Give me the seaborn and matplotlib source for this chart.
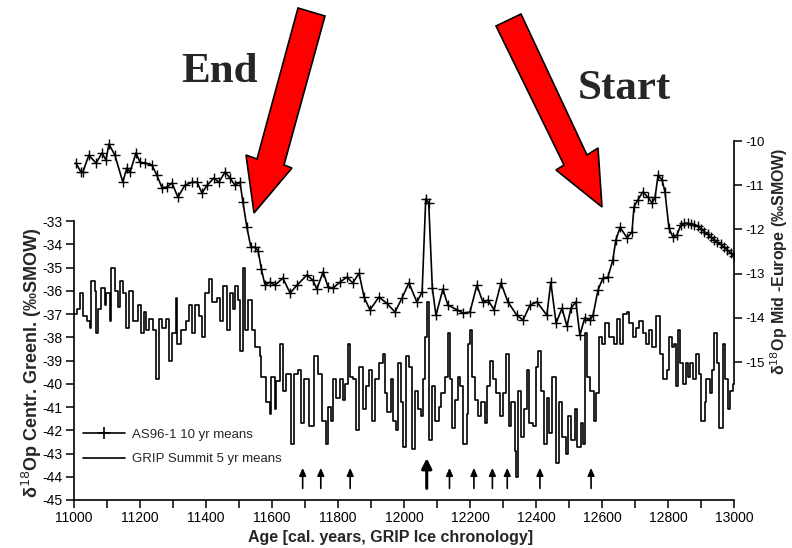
import matplotlib
matplotlib.use("Agg")
import matplotlib.pyplot as plt
import seaborn as sns
from matplotlib.patches import Polygon
from matplotlib.lines import Line2D

# AS96-1 (Mid-Europe), 10 yr means  -> right axis
as96_years = [11006, 11021, 11027, 11045, 11067, 11085, 11097, 11106, 11124, 11148,
              11160, 11170, 11188, 11200, 11215, 11236, 11251, 11267, 11282, 11297,
              11315, 11336, 11358, 11373, 11388, 11403, 11424, 11439, 11458, 11473,
              11488, 11503, 11512, 11524, 11536, 11548, 11558, 11568, 11579, 11594,
              11609, 11633, 11655, 11676, 11706, 11724, 11736, 11755, 11770, 11785,
              11806, 11827, 11845, 11864, 11879, 11897, 11924, 11948, 11973, 11994,
              12015, 12039, 12055, 12066, 12075, 12086, 12097, 12118, 12133, 12161,
              12179, 12200, 12221, 12239, 12255, 12273, 12294, 12315, 12342, 12361,
              12382, 12403, 12433, 12445, 12461, 12479, 12494, 12506, 12521, 12533,
              12548, 12564, 12573, 12588, 12603, 12618, 12633, 12642, 12655, 12676,
              12691, 12697, 12709, 12724, 12739, 12752, 12761, 12770, 12782, 12791,
              12803, 12815, 12827, 12839, 12850, 12860, 12870, 12880, 12890, 12900,
              12910, 12920, 12930, 12940, 12950, 12960, 12970, 12980, 12990, 13000]
as96_d18o = [-10.50, -10.70, -10.70, -10.32, -10.50, -10.27, -10.43, -10.07, -10.32, -10.93,
             -10.61, -10.70, -10.27, -10.48, -10.50, -10.54, -10.77, -11.06, -11.04, -10.95,
             -11.27, -11.00, -10.93, -10.93, -11.18, -11.00, -10.84, -10.93, -10.70, -10.84,
             -11.00, -10.93, -11.38, -11.95, -12.40, -12.40, -12.48, -12.90, -13.26, -13.19,
             -13.26, -13.10, -13.44, -13.26, -13.03, -13.15, -13.35, -12.96, -13.30, -13.33,
             -13.19, -13.08, -13.21, -12.99, -13.53, -13.82, -13.53, -13.67, -13.87, -13.55,
             -13.21, -13.64, -13.42, -11.30, -11.40, -13.33, -13.94, -13.35, -13.71, -13.82,
             -13.89, -13.87, -13.26, -13.64, -13.60, -13.82, -13.21, -13.64, -13.94, -14.05,
             -13.71, -13.64, -13.94, -13.19, -14.12, -13.78, -14.19, -13.78, -13.64, -14.39,
             -14.00, -14.05, -13.94, -13.37, -13.10, -13.08, -12.69, -12.24, -11.95, -12.19,
             -12.06, -11.49, -11.33, -11.15, -11.27, -11.40, -11.27, -10.77, -10.88, -11.15,
             -11.97, -12.17, -12.13, -11.90, -11.86, -11.86, -11.88, -11.90, -11.93, -11.98,
             -12.05, -12.11, -12.18, -12.23, -12.29, -12.34, -12.40, -12.46, -12.53, -12.60]

# GRIP Summit, 5 yr means  -> left axis
grip_years = [11000, 11008, 11018, 11028, 11038, 11048, 11053, 11063, 11068, 11073,
              11083, 11093, 11098, 11108, 11113, 11123, 11133, 11138, 11148, 11158,
              11168, 11178, 11193, 11203, 11213, 11218, 11228, 11238, 11250, 11258,
              11268, 11278, 11288, 11298, 11308, 11313, 11323, 11338, 11348, 11358,
              11368, 11378, 11388, 11398, 11408, 11418, 11433, 11443, 11453, 11463,
              11473, 11483, 11488, 11498, 11503, 11513, 11518, 11528, 11538, 11548,
              11563, 11568, 11583, 11593, 11598, 11608, 11613, 11623, 11633, 11643,
              11658, 11668, 11678, 11688, 11698, 11713, 11728, 11738, 11753, 11763,
              11770, 11780, 11785, 11795, 11805, 11815, 11820, 11830, 11835, 11845,
              11855, 11865, 11875, 11885, 11895, 11903, 11913, 11925, 11935, 11943,
              11950, 11960, 11967, 11975, 11983, 11990, 11997, 12005, 12015, 12025,
              12033, 12043, 12051, 12057, 12065, 12070, 12077, 12085, 12095, 12105,
              12113, 12123, 12133, 12140, 12147, 12155, 12163, 12170, 12180, 12190,
              12195, 12201, 12205, 12215, 12225, 12233, 12245, 12253, 12260, 12270,
              12280, 12290, 12300, 12310, 12318, 12325, 12335, 12340, 12347, 12355,
              12365, 12373, 12380, 12390, 12400, 12407, 12415, 12425, 12433, 12440,
              12450, 12460, 12470, 12480, 12490, 12497, 12507, 12517, 12525, 12535,
              12543, 12550, 12555, 12565, 12575, 12583, 12590, 12600, 12610, 12620,
              12635, 12645, 12655, 12665, 12675, 12683, 12693, 12703, 12713, 12723,
              12733, 12743, 12753, 12763, 12776, 12786, 12796, 12804, 12811, 12818,
              12824, 12831, 12838, 12846, 12854, 12861, 12868, 12876, 12886, 12894,
              12901, 12911, 12916, 12926, 12934, 12941, 12948, 12956, 12966, 12974,
              12981, 12988, 12996, 13000]
grip_d18o = [-37.0, -36.8, -36.1, -37.1, -37.3, -37.6, -35.6, -36.0, -37.8, -36.8,
             -35.9, -36.6, -36.1, -37.3, -35.0, -36.0, -36.7, -35.6, -36.1, -37.6,
             -36.0, -37.3, -36.6, -37.8, -36.9, -37.7, -37.2, -37.7, -39.8, -37.2,
             -37.6, -37.2, -39.0, -37.8, -36.3, -38.3, -37.7, -37.3, -36.6, -37.8,
             -36.6, -37.1, -38.0, -36.1, -35.5, -36.5, -36.3, -37.3, -35.8, -37.7,
             -36.1, -36.8, -35.8, -36.4, -38.6, -35.0, -37.7, -36.4, -37.7, -38.4,
             -38.8, -39.7, -40.8, -41.3, -39.7, -41.1, -39.9, -38.3, -40.3, -39.6,
             -42.6, -39.6, -39.4, -41.7, -39.8, -41.8, -38.8, -39.6, -41.6, -42.6,
             -41.0, -41.6, -39.8, -40.6, -39.8, -40.7, -40.0, -38.3, -39.7, -39.8,
             -42.0, -39.3, -41.1, -40.1, -39.4, -41.6, -39.8, -39.1, -38.7, -40.4,
             -41.2, -39.8, -41.6, -42.0, -39.1, -40.8, -42.7, -38.8, -39.3, -42.8,
             -40.3, -41.1, -41.4, -39.8, -38.0, -36.5, -42.4, -40.1, -41.6, -41.0,
             -40.4, -39.7, -37.8, -39.8, -41.9, -40.7, -39.7, -40.1, -42.6, -41.3,
             -38.3, -37.7, -39.7, -40.7, -41.4, -40.8, -41.7, -40.1, -39.0, -39.8,
             -40.4, -41.4, -40.4, -38.7, -41.8, -40.8, -42.9, -44.0, -40.3, -42.3,
             -41.1, -39.4, -41.7, -41.8, -39.3, -38.6, -40.3, -42.6, -40.6, -42.1,
             -39.7, -43.4, -40.8, -42.3, -43.0, -41.4, -42.4, -41.1, -42.7, -41.7,
             -42.6, -37.8, -39.7, -40.3, -41.6, -40.4, -38.0, -38.3, -37.4, -38.0,
             -38.3, -37.2, -38.3, -37.0, -36.9, -37.4, -38.0, -37.6, -37.3, -37.8,
             -38.3, -37.7, -38.4, -37.1, -38.7, -39.8, -39.4, -38.0, -38.4, -38.3,
             -40.1, -37.7, -39.1, -40.0, -39.1, -39.7, -39.1, -39.8, -38.7, -39.6,
             -41.6, -40.8, -39.8, -40.4, -39.4, -37.8, -39.1, -41.9, -38.3, -39.8,
             -41.1, -40.3, -40.0, -40.0]

# small arrows under the GRIP curve
arrow_years = [11693, 11748, 11837, 12069, 12138, 12212, 12268, 12313, 12412, 12567]
big_arrow_year = 12069

x_ticks = list(range(11000, 13001, 100))
left_ticks = list(range(-45, -32))
right_ticks = list(range(-15, -9))

sns.set_style("white")
plt.rcParams['font.family'] = ['Liberation Sans', 'DejaVu Sans']
plt.rcParams['axes.unicode_minus'] = False

fig = plt.figure(figsize=(7.92, 5.48), dpi=100)
ax = fig.add_axes([0.0934, 0.0876, 0.8333, 0.666])
ax2 = ax.twinx()

sns.lineplot(x=grip_years, y=grip_d18o, ax=ax, color='black', lw=1.2,
             drawstyle='steps-post', estimator=None, legend=False)
sns.lineplot(x=as96_years, y=as96_d18o, ax=ax2, color='black', lw=1.2,
             marker='+', markersize=7, markeredgewidth=1.0, markeredgecolor='black',
             estimator=None, legend=False)

ax.set_xlim(11000, 13000)
ax.set_ylim(-45, -29.30)
ax2.set_ylim(-18.12, -9.864)

# axes frame like the paper figure
for s in ['top', 'right']:
    ax.spines[s].set_visible(False)
for s in ['top', 'left', 'bottom']:
    ax2.spines[s].set_visible(False)
ax.spines['left'].set_bounds(-45, -33)
ax2.spines['right'].set_bounds(-15.5, -10)
for sp in [ax.spines['left'], ax.spines['bottom'], ax2.spines['right']]:
    sp.set_color('black')
    sp.set_linewidth(1.2)

ax.set_xticks(x_ticks)
ax.set_xticklabels([str(t) if t % 200 == 0 else '' for t in x_ticks])
ax.set_yticks(left_ticks)
ax.set_yticklabels([str(t) for t in left_ticks])
ax2.set_yticks(right_ticks)
ax2.set_yticklabels([str(t) for t in right_ticks])
ax.tick_params(axis='both', direction='out', length=6, width=1.1, labelsize=10, pad=2,
               colors='black', left=True, bottom=True)
ax2.tick_params(axis='y', direction='out', length=6, width=1.1, labelsize=9.5, pad=2,
                colors='black', right=True)

ax.set_xlabel("Age [cal. years, GRIP Ice chronology]", fontsize=11.5, fontweight='bold')
ax.xaxis.set_label_coords(0.479, -0.082)
ax.set_ylabel("δ$^{18}$Op Centr. Greenl. (‰SMOW)", fontsize=13, fontweight='bold')
ax.yaxis.set_label_coords(-0.046, 0.375)
ax2.set_ylabel("δ$^{18}$Op Mid -Europe (‰SMOW)", fontsize=11.5, fontweight='bold',
               rotation=90)
ax2.yaxis.set_label_coords(1.052, 0.655)

# arrows under the curve
for yr in arrow_years:
    if yr == big_arrow_year:
        ax.annotate('', xy=(yr, -43.2), xytext=(yr, -44.5),
                    arrowprops=dict(arrowstyle='-|>,head_length=0.6,head_width=0.3',
                                    color='black', lw=2.2, shrinkA=0, shrinkB=0))
    else:
        ax.annotate('', xy=(yr, -43.62), xytext=(yr, -44.5),
                    arrowprops=dict(arrowstyle='-|>,head_length=0.45,head_width=0.2',
                                    color='black', lw=1.2, shrinkA=0, shrinkB=0))

# legend
handles = [Line2D([0], [0], color='black', lw=1.2, marker='+', markersize=9, mew=1.2),
           Line2D([0], [0], color='black', lw=1.2)]
fig.legend(handles, ["AS96-1 10 yr means", "GRIP Summit 5 yr means"],
           loc='upper left', bbox_to_anchor=(71 / 792, 1 - 417 / 548), frameon=False,
           fontsize=9.5, handlelength=3.2, numpoints=1, handletextpad=0.55,
           labelspacing=0.9)


# big red arrows (pixel outline of the overlay, top-left origin)
def red_arrow(pts):
    xy = [(x / 792, 1 - y / 548) for x, y in pts]
    fig.add_artist(Polygon(xy, closed=True, transform=fig.transFigure,
                           facecolor='#ff0000', edgecolor='black', lw=1.2))


red_arrow([(298, 8), (325, 16), (284, 165), (292, 168), (254, 213), (246, 155), (257, 159)])
red_arrow([(496, 26), (521, 14), (587, 155), (598, 148), (602, 207), (556, 170), (564, 165)])

serif = ['Liberation Serif', 'DejaVu Serif']
fig.text(220 / 792, 1 - 72 / 548, "End", ha='center', va='center', fontsize=31,
         fontweight='bold', family=serif)
fig.text(624 / 792, 1 - 89 / 548, "Start", ha='center', va='center', fontsize=31,
         fontweight='bold', family=serif)

fig.savefig("out.png", dpi=100, facecolor='white')
